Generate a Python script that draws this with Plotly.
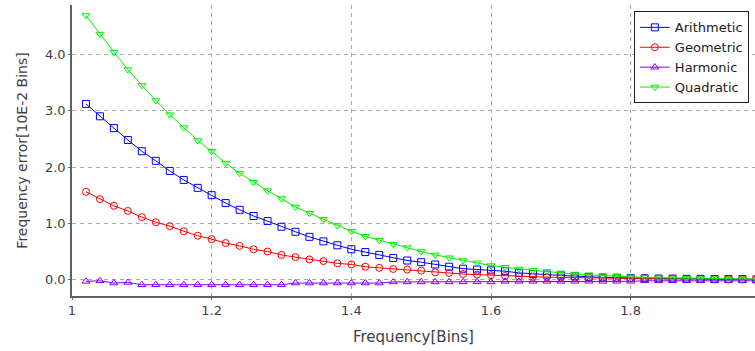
import plotly.graph_objects as go

freq = [1.02, 1.04, 1.06, 1.08, 1.10, 1.12, 1.14, 1.16, 1.18, 1.20,
        1.22, 1.24, 1.26, 1.28, 1.30, 1.32, 1.34, 1.36, 1.38, 1.40,
        1.42, 1.44, 1.46, 1.48, 1.50, 1.52, 1.54, 1.56, 1.58, 1.60,
        1.62, 1.64, 1.66, 1.68, 1.70, 1.72, 1.74, 1.76, 1.78, 1.80,
        1.82, 1.84, 1.86, 1.88, 1.90, 1.92, 1.94, 1.96, 1.98]

arithmetic = [3.12, 2.90, 2.69, 2.48, 2.28, 2.11, 1.93, 1.77, 1.63, 1.50,
              1.36, 1.24, 1.13, 1.04, 0.94, 0.85, 0.76, 0.68, 0.61, 0.54,
              0.49, 0.44, 0.385, 0.34, 0.31, 0.27, 0.23, 0.195, 0.18, 0.165,
              0.15, 0.12, 0.10, 0.09, 0.075, 0.06, 0.05, 0.04, 0.035, 0.03,
              0.025, 0.02, 0.02, 0.015, 0.015, 0.01, 0.01, 0.01, 0.005]

geometric = [1.56, 1.43, 1.31, 1.22, 1.11, 1.02, 0.95, 0.86, 0.78, 0.72,
             0.65, 0.60, 0.54, 0.50, 0.44, 0.40, 0.36, 0.33, 0.29, 0.27,
             0.23, 0.21, 0.19, 0.18, 0.16, 0.13, 0.12, 0.10, 0.09, 0.08,
             0.065, 0.055, 0.05, 0.045, 0.04, 0.035, 0.03, 0.03, 0.025, 0.02,
             0.02, 0.015, 0.015, 0.01, 0.01, 0.01, 0.005, 0.005, 0.005]

harmonic = [-0.03, -0.02, -0.06, -0.05, -0.09, -0.09, -0.09, -0.09, -0.09, -0.09,
            -0.09, -0.09, -0.09, -0.09, -0.09, -0.06, -0.06, -0.06, -0.06, -0.06,
            -0.06, -0.06, -0.04, -0.04, -0.04, -0.04, -0.04, -0.04, -0.04, -0.04,
            -0.03, -0.03, -0.03, -0.03, -0.03, -0.03, -0.03, -0.03, -0.03, -0.03,
            -0.02, -0.02, -0.02, -0.02, -0.02, -0.02, -0.02, -0.02, -0.02]

quadratic = [4.69, 4.36, 4.04, 3.73, 3.45, 3.18, 2.93, 2.70, 2.47, 2.28,
             2.07, 1.89, 1.73, 1.58, 1.44, 1.29, 1.18, 1.07, 0.96, 0.86,
             0.77, 0.70, 0.63, 0.57, 0.50, 0.44, 0.39, 0.34, 0.30, 0.25,
             0.22, 0.19, 0.165, 0.145, 0.12, 0.10, 0.085, 0.07, 0.06, 0.05,
             0.04, 0.035, 0.03, 0.025, 0.02, 0.02, 0.015, 0.015, 0.01]

x_ticks = [1.0, 1.2, 1.4, 1.6, 1.8]
x_tick_labels = ["1", "1.2", "1.4", "1.6", "1.8"]
y_ticks = [0, 1, 2, 3, 4]
y_tick_labels = ["0.0", "1.0", "2.0", "3.0", "4.0"]

series = [
    ("Arithmetic", arithmetic, "#0000ff", "square-open"),
    ("Geometric", geometric, "#ff0000", "circle-open"),
    ("Harmonic", harmonic, "#8000ff", "triangle-up-open"),
    ("Quadratic", quadratic, "#00f000", "triangle-down-open"),
]

FONT = "DejaVu Sans"

fig = go.Figure()
for name, vals, color, sym in series:
    fig.add_trace(go.Scatter(
        x=freq, y=vals, name=name, mode="lines+markers",
        line=dict(color=color, width=1),
        marker=dict(symbol=sym, size=7, color=color, line=dict(width=1, color=color)),
    ))

fig.update_layout(
    width=755, height=351,
    margin=dict(l=72, r=0, t=5, b=55),
    paper_bgcolor="white", plot_bgcolor="white",
    font=dict(family=FONT, size=12, color="#404040"),
    legend=dict(
        x=0.991, y=0.978, xanchor="right", yanchor="top",
        bgcolor="white", bordercolor="#202020", borderwidth=1,
        font=dict(family=FONT, size=13, color="#202020"),
        tracegroupgap=0, itemwidth=30,
    ),
    xaxis=dict(
        range=[1.0, 1.978], tickvals=x_ticks, ticktext=x_tick_labels,
        showgrid=True, gridcolor="#a8a8a8", griddash="4px,4px", gridwidth=1,
        showline=True, linecolor="#606060", linewidth=1.5,
        ticks="outside", ticklen=2, tickcolor="#707070",
        zeroline=False,
        tickfont=dict(family=FONT, size=13, color="#404040"),
        title=dict(text="Frequency[Bins]", font=dict(family=FONT, size=15, color="#404040"), standoff=14),
    ),
    yaxis=dict(
        range=[-0.29, 4.876], tickvals=y_ticks, ticktext=y_tick_labels,
        showgrid=True, gridcolor="#a8a8a8", griddash="4px,4px", gridwidth=1,
        showline=True, linecolor="#606060", linewidth=1.5,
        ticks="outside", ticklen=2, tickcolor="#707070",
        zeroline=False,
        tickfont=dict(family=FONT, size=13, color="#404040"),
        title=dict(text="Frequency error[10E-2 Bins]", font=dict(family=FONT, size=14, color="#404040"), standoff=14),
    ),
)

fig.write_html("out.html")
